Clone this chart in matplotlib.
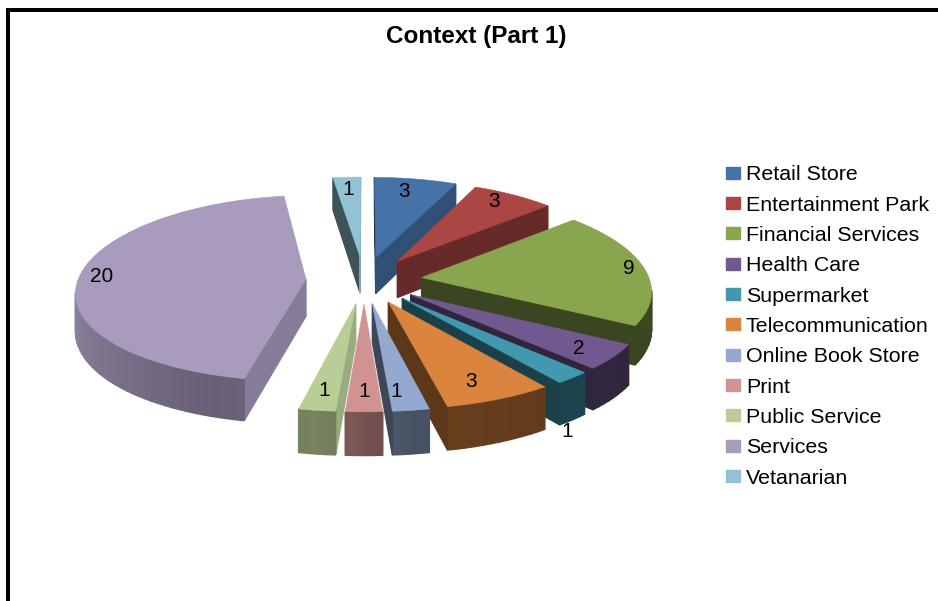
import numpy as np
import matplotlib
matplotlib.use('Agg')
import matplotlib.pyplot as plt
from matplotlib.patches import Patch, Polygon

categories = ['Retail Store', 'Entertainment Park', 'Financial Services', 'Health Care',
              'Supermarket', 'Telecommunication', 'Online Book Store', 'Print',
              'Public Service', 'Services', 'Vetanarian']
values = [3, 3, 9, 2, 1, 3, 1, 1, 1, 20, 1]
colors = ['#4572A7', '#AA4643', '#89A54E', '#71588F', '#4198AF', '#DB843D',
          '#93A9CF', '#D19392', '#B9CD96', '#A99BBD', '#91C3D5']

# where each number sits: radius as a fraction of the pie, angle offset in degrees
label_radius = [0.83, 0.87, 0.93, 0.85, 1.35, 0.82, 0.83, 0.83, 0.83, 0.90, 0.84]
label_shift = [-2, -2, 0, 1, 15, 2, 2, 0, 0, 0, 0]

plt.rcParams['font.family'] = ['Liberation Sans', 'DejaVu Sans']

# pie geometry in pixels
cx, cy = 364, 280
radius = 228
squash = 0.404
persp_x = 0.123
persp_y = 0.098
explode = 0.255
height = 37


def project(x, y, z=0):
    sx = 1 / (1 + persp_x * y)
    sy = 1 / (1 + persp_y * y)
    return cx + radius * x * sx, cy - squash * radius * y * sy + height * z * sx


def darken(color, f):
    return np.array(matplotlib.colors.to_rgb(color)) * f


def wall_shade(a):
    # a = direction the wall faces, degrees clockwise from the back
    return np.interp(a % 360, [90, 102, 114, 138, 210, 258, 300], [0.85, 0.8, 0.7, 0.6, 0.42, 0.42, 0.42])


def arc_shade(a):
    return np.interp(a % 360, [40, 120, 172, 180, 188, 200, 272, 360], [0.5, 0.42, 0.48, 0.56, 0.64, 0.62, 0.88, 0.6])


def front_facing(quad):
    x = quad[:, 0]
    y = -quad[:, 1]
    return np.sum(x * np.roll(y, -1) - np.roll(x, -1) * y) > 0


def draw_slice(ax, a0, a1, color):
    mid = np.radians((a0 + a1) / 2)
    ox, oy = explode * np.sin(mid), explode * np.cos(mid)
    angles = np.radians(np.arange(a0, a1, 2.0))
    angles = np.append(angles, np.radians(a1))
    xs = np.concatenate([[ox], ox + np.sin(angles), [ox]])
    ys = np.concatenate([[oy], oy + np.cos(angles), [oy]])
    top = np.array([project(x, y) for x, y in zip(xs, ys)])
    bottom = np.array([project(x, y, 1) for x, y in zip(xs, ys)])

    for i in range(len(xs) - 1):
        quad = np.array([top[i], top[i + 1], bottom[i + 1], bottom[i]])
        if not front_facing(quad):
            continue
        if i == 0:
            shade = wall_shade(a0 - 90)
        elif i == len(xs) - 2:
            shade = wall_shade(a1 + 90)
        else:
            shade = arc_shade(np.degrees(angles[i - 1]) + 1)
        c = darken(color, shade)
        ax.add_patch(Polygon(quad, closed=True, facecolor=c, edgecolor=c, linewidth=1.0))
    ax.add_patch(Polygon(top, closed=True, facecolor=color, edgecolor=color, linewidth=0.4))


fig = plt.figure(figsize=(9.38, 6.01), dpi=100)
ax = fig.add_axes([0, 0, 1, 1])
ax.set_xlim(0, 938)
ax.set_ylim(601, 0)
ax.axis('off')

ax.plot([8, 8, 938], [601, 10, 10], color='black', linewidth=2.9, solid_joinstyle='miter')
ax.text(476.5, 36, 'Context (Part 1)', fontsize=17.5, fontweight='bold', ha='center', va='center')

edges = np.cumsum([0] + values) / sum(values) * 360
mids = (edges[:-1] + edges[1:]) / 2

# far slices first so the near ones paint over them
for i in np.argsort(-np.cos(np.radians(mids))):
    draw_slice(ax, edges[i], edges[i + 1], colors[i])

for i, v in enumerate(values):
    m = np.radians(mids[i])
    a = np.radians(mids[i] + label_shift[i])
    r = label_radius[i]
    x, y = project(explode * np.sin(m) + r * np.sin(a), explode * np.cos(m) + r * np.cos(a))
    ax.text(x, y, str(v), fontsize=15, ha='center', va='center', color='black')

handles = [Patch(facecolor=c, edgecolor=c) for c in colors]
ax.legend(handles, categories, loc='upper left', bbox_to_anchor=(722, 161),
          bbox_transform=ax.transData, frameon=False, fontsize=15.4, labelspacing=0.53,
          handlelength=0.62, handleheight=0.5, handletextpad=0.3, borderaxespad=0, borderpad=0.2)

fig.savefig('out.png', dpi=100)
